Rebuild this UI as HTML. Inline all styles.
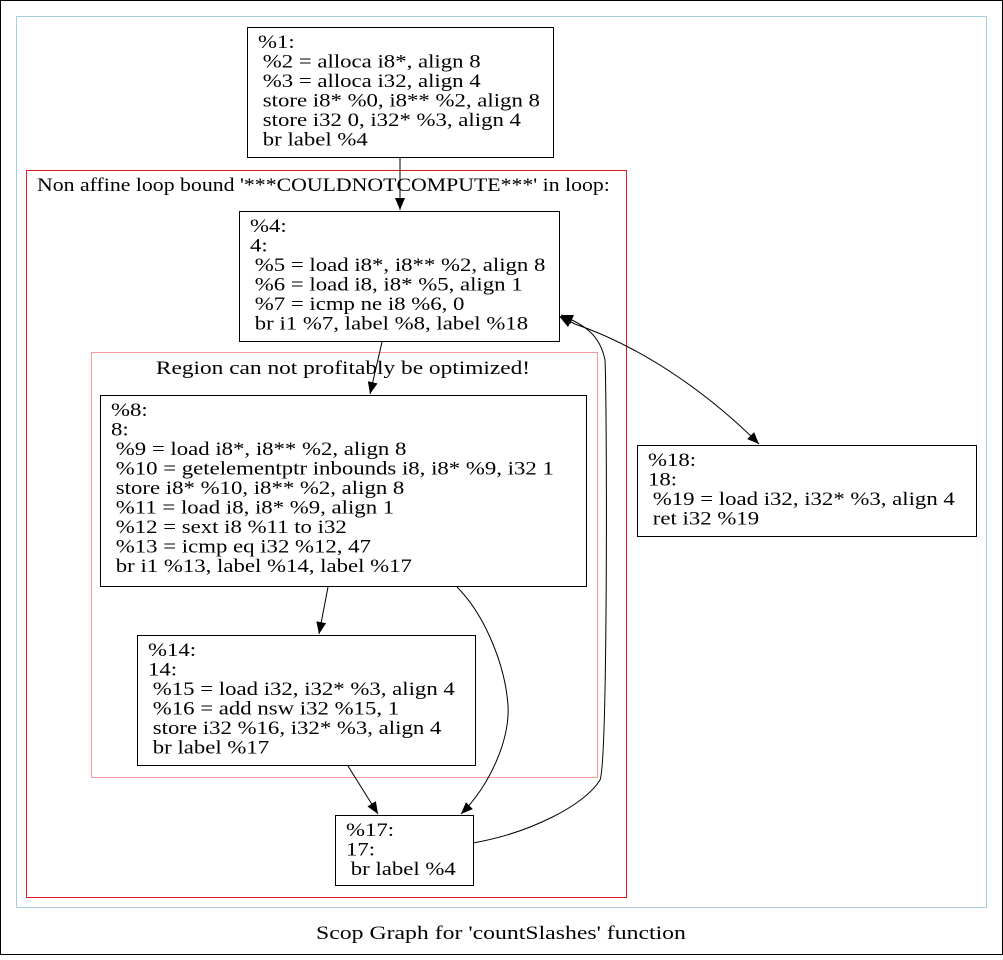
<!DOCTYPE html>
<html><head><meta charset="utf-8"><style>
html,body{margin:0;padding:0;background:#fff}
svg text{font-family:"Liberation Serif",serif;font-size:19px;fill:#000}
</style></head><body>
<svg width="1003" height="955" viewBox="0 0 1003 955" xmlns="http://www.w3.org/2000/svg">
<defs><marker id="a" markerWidth="12" markerHeight="10" refX="12" refY="5" orient="auto" markerUnits="userSpaceOnUse"><path d="M0,0 L12,5 L0,10 z" fill="#000"/></marker></defs>
<rect x="0.5" y="0.5" width="1002" height="954" fill="#fff" stroke="#000"/>
<rect x="16.5" y="16.5" width="970" height="891" fill="none" stroke="#a6cee3"/>
<rect x="26.5" y="170.5" width="600" height="727" fill="none" stroke="#e31a1c"/>
<rect x="91.5" y="352.5" width="506" height="425" fill="none" stroke="#fb9a99"/>
<g transform="translate(37,0) scale(1.148,1) translate(-37,0)"><text x="37" y="191">Non affine loop bound '***COULDNOTCOMPUTE***' in loop:</text></g>
<g transform="translate(343,0) scale(1.23,1) translate(-343,0)"><text x="343" y="374" text-anchor="middle">Region can not profitably be optimized!</text></g>
<g transform="translate(501,0) scale(1.25,1) translate(-501,0)"><text x="501" y="939" text-anchor="middle">Scop Graph for 'countSlashes' function</text></g>

<rect x="247.5" y="27.5" width="306" height="130" fill="none" stroke="#000"/>
<g transform="translate(258,0) scale(1.2,1) translate(-258,0)">
<text x="258" y="48">%1:</text>
<text x="262" y="67.5">%2 = alloca i8*, align 8</text>
<text x="262" y="87">%3 = alloca i32, align 4</text>
<text x="262" y="106.5">store i8* %0, i8** %2, align 8</text>
<text x="262" y="126">store i32 0, i32* %3, align 4</text>
<text x="262" y="145.5">br label %4</text>
</g>

<rect x="239.5" y="211.5" width="320" height="130" fill="none" stroke="#000"/>
<g transform="translate(250,0) scale(1.2,1) translate(-250,0)">
<text x="250" y="232">%4:</text>
<text x="250" y="251.5">4:</text>
<text x="254" y="271">%5 = load i8*, i8** %2, align 8</text>
<text x="254" y="290.5">%6 = load i8, i8* %5, align 1</text>
<text x="254" y="310">%7 = icmp ne i8 %6, 0</text>
<text x="254" y="329.5">br i1 %7, label %8, label %18</text>
</g>

<rect x="100.5" y="395.5" width="486" height="191" fill="none" stroke="#000"/>
<g transform="translate(111,0) scale(1.2,1) translate(-111,0)">
<text x="111" y="416">%8:</text>
<text x="111" y="435.5">8:</text>
<text x="115" y="455">%9 = load i8*, i8** %2, align 8</text>
<text x="115" y="474.5">%10 = getelementptr inbounds i8, i8* %9, i32 1</text>
<text x="115" y="494">store i8* %10, i8** %2, align 8</text>
<text x="115" y="513.5">%11 = load i8, i8* %9, align 1</text>
<text x="115" y="533">%12 = sext i8 %11 to i32</text>
<text x="115" y="552.5">%13 = icmp eq i32 %12, 47</text>
<text x="115" y="572">br i1 %13, label %14, label %17</text>
</g>

<rect x="137.5" y="635.5" width="338" height="130" fill="none" stroke="#000"/>
<g transform="translate(148,0) scale(1.2,1) translate(-148,0)">
<text x="148" y="656">%14:</text>
<text x="148" y="675.5">14:</text>
<text x="152" y="695">%15 = load i32, i32* %3, align 4</text>
<text x="152" y="714.5">%16 = add nsw i32 %15, 1</text>
<text x="152" y="734">store i32 %16, i32* %3, align 4</text>
<text x="152" y="753.5">br label %17</text>
</g>

<rect x="335.5" y="815.5" width="138" height="70" fill="none" stroke="#000"/>
<g transform="translate(346,0) scale(1.2,1) translate(-346,0)">
<text x="346" y="836">%17:</text>
<text x="346" y="855.5">17:</text>
<text x="350" y="875">br label %4</text>
</g>

<rect x="637.5" y="445.5" width="339" height="91" fill="none" stroke="#000"/>
<g transform="translate(648,0) scale(1.2,1) translate(-648,0)">
<text x="648" y="466">%18:</text>
<text x="648" y="485.5">18:</text>
<text x="652" y="505">%19 = load i32, i32* %3, align 4</text>
<text x="652" y="524.5">ret i32 %19</text>
</g>

<g fill="none" stroke="#000" stroke-width="1">
<path d="M400,157 L400,210" marker-end="url(#a)"/>
<path d="M382,342 L370,394" marker-end="url(#a)"/>
<path d="M328,587 L319,634" marker-end="url(#a)"/>
<path d="M457,587 C485,615 505,665 508,705 C510,740 490,785 461,814" marker-end="url(#a)"/>
<path d="M348,766 L378,814" marker-end="url(#a)"/>
<path d="M473,843 C530,833 585,805 600,780 C608,760 607,400 605,360 C600,335 585,325 561,315" marker-end="url(#a)"/>
<path d="M575,324 C650,350 715,400 759,444" marker-end="url(#a)"/>
<path d="M575,324 L561,317" />
</g>
<path d="M559,316 L573,317 L568,327 z" fill="#000"/>
</svg>
</body></html>
